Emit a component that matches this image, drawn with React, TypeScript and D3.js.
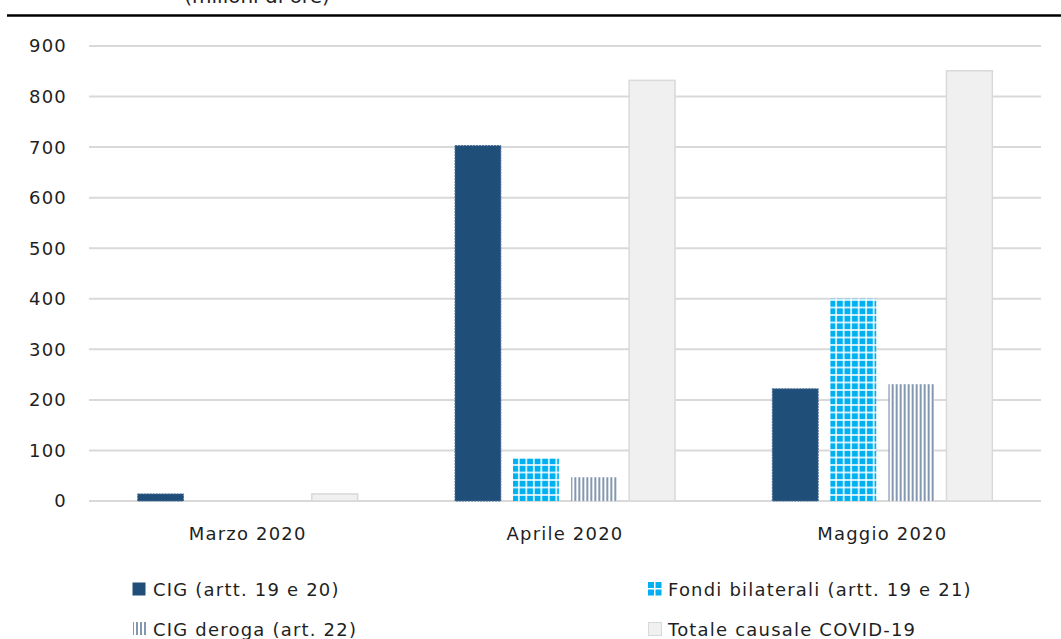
import React from "react";
import * as d3 from "d3";

// Months on the x axis
const categories = ["Marzo 2020", "Aprile 2020", "Maggio 2020"];

// Series (values in the chart's unit)
const seriesNames = [
  "CIG (artt. 19 e 20)",
  "Fondi bilaterali (artt. 19 e 21)",
  "CIG deroga (art. 22)",
  "Totale causale COVID-19",
];
const cigValues = [14, 703, 222];
const fondiValues = [0, 84, 400];
const derogaValues = [0, 47, 231];
const totaleValues = [14, 832, 851];

const yTicks = [0, 100, 200, 300, 400, 500, 600, 700, 800, 900];

const W = 1061;
const H = 639;
const FONT = "'DejaVu Sans', Verdana, sans-serif";
const TEXT = "#1f1f1f";
const FS = 18;
const LS = 1.2;

const fills = ["#1F4E79", "url(#pFondi)", "url(#pDeroga)", "#F0F0F0"];
const strokes = ["#4A6F96", "none", "none", "#D9D9D9"];

export default function App() {
  const x0 = d3.scaleBand<string>().domain(categories).range([89, 1041]).padding(0);
  const bw = x0.bandwidth();
  const x1 = d3
    .scaleBand<string>()
    .domain(seriesNames)
    .range([bw / 2 - 110, bw / 2 + 110])
    .paddingInner(0.21)
    .paddingOuter(0);
  const y = d3.scaleLinear().domain([0, 900]).range([501, 46]);

  const values = [cigValues, fondiValues, derogaValues, totaleValues];

  return (
    <svg
      width={W}
      height={H}
      style={{ position: "absolute", left: 0, top: 0, background: "#fff" }}
      fontFamily={FONT}
    >
      <defs>
        <pattern id="pFondi" patternUnits="userSpaceOnUse" width={7.5} height={7.5}>
          <rect width={7.5} height={7.5} fill="#ffffff" />
          <rect x={0.75} y={0.75} width={6} height={6} fill="#00B0F0" />
        </pattern>
        <pattern id="pDeroga" patternUnits="userSpaceOnUse" width={4} height={4}>
          <rect width={4} height={4} fill="#ffffff" />
          <rect x={0} y={0} width={2} height={4} fill="#8497B0" />
        </pattern>
      </defs>

      {/* heading, cut at the top edge, and rule below it */}
      <text x={257} y={3} textAnchor="middle" fontSize={20} fill={TEXT}>
        (milioni di ore)
      </text>
      <line x1={7} x2={W} y1={15.5} y2={15.5} stroke="#000" strokeWidth={2.5} />

      {/* gridlines and y tick labels */}
      {yTicks.map((t) => (
        <g key={t}>
          <line x1={89} x2={1041} y1={y(t)} y2={y(t)} stroke="#D9D9D9" strokeWidth={2} />
          <text
            x={67}
            y={y(t)}
            dy="0.36em"
            textAnchor="end"
            fontSize={FS}
            letterSpacing={LS}
            fill={TEXT}
          >
            {t}
          </text>
        </g>
      ))}

      {/* bars */}
      {categories.map((c, ci) => (
        <g key={c} transform={`translate(${x0(c)},0)`}>
          {seriesNames.map((s, si) => {
            const v = values[si][ci];
            if (v <= 0) return null;
            return (
              <rect
                key={s}
                x={x1(s)}
                y={y(v)}
                width={x1.bandwidth()}
                height={y(0) - y(v)}
                fill={fills[si]}
                stroke={strokes[si]}
                strokeWidth={si === 3 ? 1.5 : 1}
                strokeDasharray={si === 0 ? "2 1" : undefined}
              />
            );
          })}
        </g>
      ))}

      {/* x axis labels */}
      {categories.map((c) => (
        <text
          key={c}
          x={(x0(c) as number) + bw / 2}
          y={540}
          textAnchor="middle"
          fontSize={FS}
          letterSpacing={LS}
          fill={TEXT}
        >
          {c}
        </text>
      ))}

      {/* legend */}
      {seriesNames.map((s, i) => {
        const lx = i % 2 === 0 ? 132 : 648;
        const ly = i < 2 ? 582 : 622;
        return (
          <g key={s} transform={`translate(${lx},${ly})`}>
            {i === 2 ? (
              <rect x={1} y={0} width={13} height={13} fill="url(#pDeroga)" />
            ) : i === 1 ? (
              <g>
                <rect x={0} y={0} width={6} height={6} fill="#00B0F0" />
                <rect x={7.5} y={0} width={6} height={6} fill="#00B0F0" />
                <rect x={0} y={7.5} width={6} height={6} fill="#00B0F0" />
                <rect x={7.5} y={7.5} width={6} height={6} fill="#00B0F0" />
              </g>
            ) : (
              <rect
                x={0.5}
                y={0.5}
                width={13}
                height={13}
                fill={i === 0 ? "#1F4E79" : "#F0F0F0"}
                stroke={i === 0 ? "none" : "#D9D9D9"}
              />
            )}
            <text
              x={i % 2 === 0 ? 21 : 20}
              y={14}
              fontSize={FS}
              letterSpacing={LS}
              fill={TEXT}
            >
              {s}
            </text>
          </g>
        );
      })}
    </svg>
  );
}
